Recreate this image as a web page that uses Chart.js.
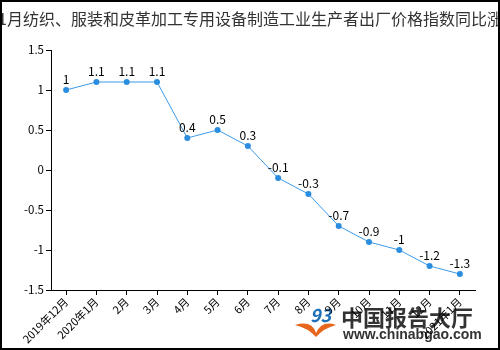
<!DOCTYPE html>
<html>
<head>
<meta charset="utf-8">
<script src="https://cdn.jsdelivr.net/npm/chart.js@4"></script>
<style>
  html, body { margin: 0; padding: 0; background: #fff; }
  #wrap { width: 500px; height: 350px; }
</style>
</head>
<body>
<div id="wrap"><canvas id="myChart" width="500" height="350"></canvas></div>
<script>
let titleText = "2021年1月纺织、服装和皮革加工专用设备制造工业生产者出厂价格指数同比涨跌";
let months = ["2019年12月", "2020年1月", "2月", "3月", "4月", "5月", "6月", "7月", "8月", "9月", "10月", "11月", "12月", "2021年1月"];
let values = [1, 1.1, 1.1, 1.1, 0.4, 0.5, 0.3, -0.1, -0.3, -0.7, -0.9, -1, -1.2, -1.3];
let yTicks = [-1.5, -1, -0.5, 0, 0.5, 1, 1.5];

let fontName = "'Noto Sans CJK SC', 'Noto Sans', sans-serif";

// watermark sits under the axes, title / value labels / frame on top
let extrasPlugin = {
  id: "extras",
  beforeDraw: function(chart) {
    let ctx = chart.ctx;
    ctx.save();
    ctx.fillStyle = "#e8661c";
    ctx.beginPath();
    ctx.moveTo(295, 325);
    ctx.quadraticCurveTo(312, 320, 316, 333);
    ctx.quadraticCurveTo(322, 320, 336, 325);
    ctx.quadraticCurveTo(324, 328, 316, 337);
    ctx.quadraticCurveTo(308, 328, 295, 325);
    ctx.fill();
    ctx.font = "italic bold 18px " + fontName;
    ctx.fillStyle = "#1d6fb8";
    ctx.textAlign = "left";
    ctx.textBaseline = "alphabetic";
    ctx.fillText("93", 310, 322);
    ctx.font = "bold 22px " + fontName;
    ctx.fillStyle = "#333";
    ctx.fillText("中国报告大厅", 341, 326);
    ctx.font = "bold 14px 'Liberation Sans', Arial, sans-serif";
    ctx.fillText("www.chinabgao.com", 343, 339);
    ctx.restore();
  },
  afterDraw: function(chart) {
    let ctx = chart.ctx;
    ctx.save();

    // title (clipped on both sides like the original)
    ctx.font = "16px " + fontName;
    ctx.fillStyle = "#333";
    ctx.textBaseline = "middle";
    ctx.textAlign = "left";
    let pre = ctx.measureText("2021年").width;
    ctx.fillText(titleText, -2 - pre, 19);

    // value labels
    let meta = chart.getDatasetMeta(0);
    ctx.font = "12px " + fontName;
    ctx.fillStyle = "#000";
    ctx.textAlign = "center";
    ctx.textBaseline = "bottom";
    meta.data.forEach(function(pt, i) {
      ctx.fillText(String(values[i]), pt.x, pt.y - 5);
    });

    // frame
    ctx.strokeStyle = "#000";
    ctx.lineWidth = 2;
    ctx.strokeRect(1, 1, 498, 348);
    ctx.restore();
  }
};

let canvasEl = document.getElementById("myChart").getContext("2d");
let myChart = new Chart(canvasEl, {
  type: "line",
  data: {
    labels: months,
    datasets: [{
      data: values,
      borderColor: "#3d9be9",
      backgroundColor: "#2b8de0",
      borderWidth: 1,
      pointRadius: 3,
      pointHoverRadius: 3,
      pointBorderWidth: 0,
      tension: 0
    }]
  },
  options: {
    responsive: false,
    animation: false,
    layout: { padding: { top: 50, right: 25, left: 0, bottom: 0 } },
    plugins: {
      legend: { display: false },
      title: { display: false },
      tooltip: { enabled: false }
    },
    scales: {
      x: {
        offset: true,
        grid: { drawOnChartArea: false, color: "#000", tickLength: 5, offset: false },
        border: { color: "#000", width: 1 },
        ticks: {
          color: "#000",
          font: { size: 11, family: fontName },
          minRotation: 45,
          maxRotation: 45,
          autoSkip: false,
          padding: 0
        },
        afterFit: function(scale) { scale.height = 60; }
      },
      y: {
        min: -1.5,
        max: 1.5,
        grid: { drawOnChartArea: false, color: "#000", tickLength: 5 },
        border: { color: "#000", width: 1 },
        afterBuildTicks: function(scale) {
          scale.ticks = yTicks.map(function(v) { return { value: v }; });
        },
        ticks: {
          color: "#000",
          font: { size: 11.5, family: fontName },
          padding: 2,
          callback: function(v) { return String(Number(v.toFixed(1))); }
        },
        afterFit: function(scale) { scale.width = 51; }
      }
    }
  },
  plugins: [extrasPlugin]
});
</script>
</body>
</html>
